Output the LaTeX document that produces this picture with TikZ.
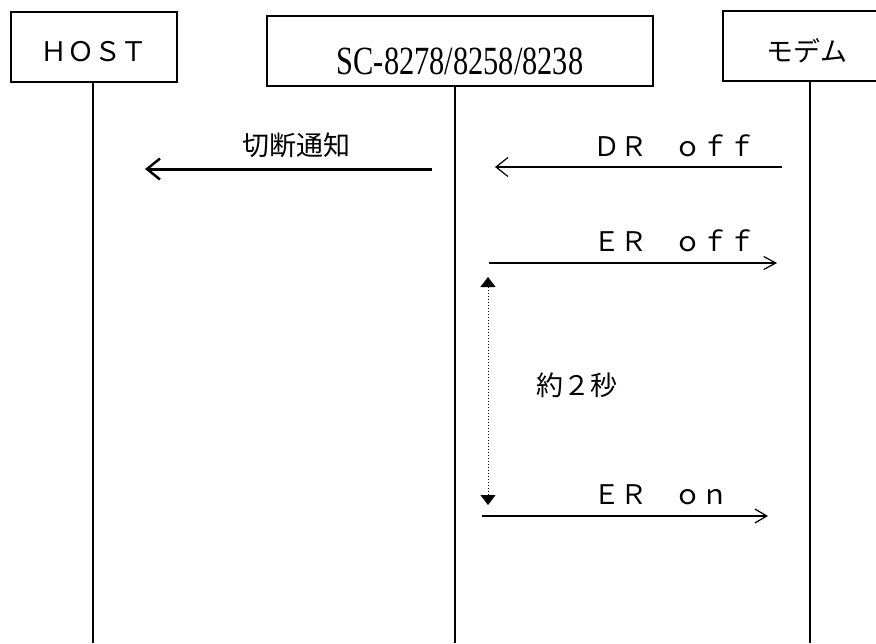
\documentclass[tikz,border=0pt]{standalone}
\usepackage{fontspec}
\usepackage{graphicx}
\setmainfont{Liberation Serif}
\newfontfamily\jpfont{Noto Sans CJK JP}
\usetikzlibrary{positioning, arrows.meta}

\begin{document}
\begin{tikzpicture}[x=1pt, y=-1pt,
        box/.style={draw, line width=2pt, inner sep=0pt, minimum height=70pt},
        lifeline/.style={line width=2.5pt},
        msg/.style={line width=1.2pt},
        jptext/.style={font=\jpfont\fontsize{27}{32}\selectfont, inner sep=0pt}]
    \useasboundingbox (0,0) rectangle (876,643);
    % boxes
    \node[box, jptext, minimum width=166pt, text height=29pt, text depth=0pt] (host) at (94,46.5) {ＨＯＳＴ};
    \node[box, minimum width=386pt, text height=46pt, text depth=0pt] (sc) at (460,51)
        {\scalebox{0.76}[1]{\fontsize{40}{44}\selectfont SC-8278/8258/8238}};
    \node[box, jptext, minimum width=168pt, text height=30pt, text depth=0pt] (modem) at (807,46) {モデム};
    % lifelines
    \coordinate (hostTop) at (93,81);   \coordinate (hostBot) at (93,643);
    \coordinate (scTop) at (455,86);    \coordinate (scBot) at (455,643);
    \coordinate (modemTop) at (810,81); \coordinate (modemBot) at (810,643);
    \draw[lifeline] (hostTop) -- (hostBot);
    \draw[lifeline] (scTop) -- (scBot);
    \draw[lifeline] (modemTop) -- (modemBot);
    % messages
    \coordinate (cutA) at (432,169); \coordinate (cutB) at (145,169);
    \draw[line width=3pt, -{Straight Barb[length=13pt, width=21pt, line width=2.5pt]}] (cutA) -- (cutB);
    \node[jptext] (cutLbl) at (296,145) {切断通知};

    \coordinate (drA) at (782,167); \coordinate (drB) at (495,167);
    \draw[msg, -{Straight Barb[length=12pt, width=19pt]}] (drA) -- (drB);
    \node[jptext, anchor=base west] (drLbl) at (593,156) {ＤＲ　ｏｆｆ};

    \coordinate (eroffA) at (489,263); \coordinate (eroffB) at (777,263);
    \draw[msg, -{Straight Barb[length=12pt, width=13pt]}] (eroffA) -- (eroffB);
    \node[jptext, anchor=base west] (eroffLbl) at (593,251) {ＥＲ　ｏｆｆ};

    \coordinate (eronA) at (482,516); \coordinate (eronB) at (768,516);
    \draw[msg, -{Straight Barb[length=12pt, width=14pt]}] (eronA) -- (eronB);
    \node[jptext, anchor=base west] (eronLbl) at (593,504) {ＥＲ　ｏｎ};

    % waiting time
    \coordinate (waitTop) at (488,277); \coordinate (waitBot) at (488,505);
    \draw[dotted, line width=1pt, {Triangle[length=10pt, width=15pt]}-{Triangle[length=10pt, width=15pt]}] (waitTop) -- (waitBot);
    \node[jptext] (waitLbl) at (577,385) {約２秒};
\end{tikzpicture}
\end{document}
